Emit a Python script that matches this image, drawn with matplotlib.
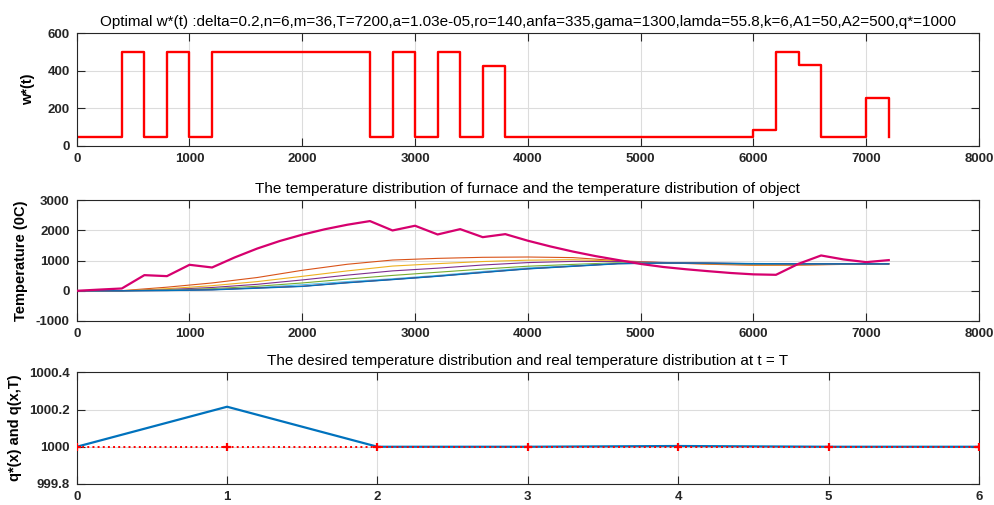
import numpy as np
import matplotlib
matplotlib.use("Agg")
import matplotlib.pyplot as plt
from matplotlib.ticker import FuncFormatter

plt.rcParams['font.family'] = ['Liberation Sans', 'DejaVu Sans']
plt.rcParams['axes.unicode_minus'] = False

# ---------------- data ----------------
t_steps = list(range(0, 7201, 200))  # 37 time nodes
w_opt = [50, 50, 500, 50, 500, 50, 500, 500, 500, 500, 500, 500, 500,
         50, 500, 50, 500, 50, 426, 50, 50, 50, 50, 50, 50, 50, 50, 50, 50,
         50, 85, 500, 430, 50, 50, 256, 50]

furnace = [0, 40, 77, 519, 486, 862, 773, 1105, 1400, 1650, 1860, 2040, 2190,
           2311, 2000, 2156, 1867, 2044, 1778, 1878, 1660, 1470, 1300, 1150,
           1020, 890, 790, 715, 650, 590, 545, 530, 895, 1171, 1039, 950, 1017]

t_obj = list(range(0, 7201, 400))
obj_orange = [0, 5, 120, 260, 440, 680, 880, 1020, 1075, 1110, 1120, 1100, 1000, 930, 880, 845, 850, 875, 890]
obj_yellow = [0, 2, 70, 170, 305, 480, 660, 820, 900, 970, 1015, 1030, 985, 935, 893, 860, 860, 880, 893]
obj_purple = [0, 1, 40, 110, 215, 360, 520, 660, 750, 855, 935, 975, 970, 940, 905, 875, 870, 882, 893]
obj_green = [0, 0, 25, 70, 150, 260, 390, 510, 615, 720, 815, 875, 930, 930, 910, 885, 880, 885, 893]
obj_lblue = [0, 0, 15, 45, 110, 200, 305, 400, 510, 640, 760, 835, 910, 925, 915, 895, 890, 890, 893]
obj_dred = [0, 0, 10, 35, 95, 150, 270, 375, 485, 610, 730, 815, 900, 922, 918, 900, 893, 893, 893]
obj_blue = [0, 0, 8, 30, 85, 145, 265, 370, 480, 605, 725, 810, 895, 920, 918, 903, 895, 893, 893]

x_nodes = [0, 1, 2, 3, 4, 5, 6]
q_star = [1000, 1000, 1000, 1000, 1000, 1000, 1000]
q_real = [1000.0, 1000.215, 1000.0, 1000.0, 1000.004, 1000.0, 1000.0]

title_top = ("Optimal w*(t) :delta=0.2,n=6,m=36,T=7200,a=1.03e-05,ro=140,anfa=335,"
             "gama=1300,lamda=55.8,k=6,A1=50,A2=500,q*=1000")
title_mid = "The temperature distribution of furnace and the temperature distribution of object"
title_bot = "The desired temperature distribution and real temperature distribution at t = T"

# ---------------- figure ----------------
fig = plt.figure(figsize=(9.95, 5.05), dpi=100)
ax1 = fig.add_axes([0.0771, 0.7109, 0.9068, 0.2231])
ax2 = fig.add_axes([0.0771, 0.3644, 0.9068, 0.2390])
ax3 = fig.add_axes([0.0771, 0.0416, 0.9068, 0.2212])

axc = '#262626'

def style(ax):
    ax.grid(True, color='#dcdcdc', linewidth=0.8)
    ax.set_axisbelow(True)
    for s in ax.spines.values():
        s.set_color(axc)
        s.set_linewidth(0.8)
    ax.tick_params(direction='in', length=6, width=0.8, colors=axc,
                   top=True, right=True, labelsize=9.5)
    ax.tick_params(axis='x', pad=5)
    ax.tick_params(axis='y', pad=5)
    for lab in ax.get_xticklabels() + ax.get_yticklabels():
        lab.set_fontweight('bold')

# top
ax1.step(t_steps, w_opt, where='post', color='#ff0000', linewidth=1.7)
ax1.set_xlim(0, 8000)
ax1.set_ylim(0, 600)
ax1.set_xticks(range(0, 8001, 1000))
ax1.set_yticks([0, 200, 400, 600])
ax1.set_ylabel('w*(t)', fontsize=10.5, fontweight='bold', color='black', labelpad=9)
ax1.set_title(title_top, fontsize=11, color='black', pad=5)
style(ax1)

# middle
ax2.plot(t_steps, furnace, color='#d6006e', linewidth=1.6, zorder=5)
obj_series = [obj_blue, obj_orange, obj_yellow, obj_purple, obj_green, obj_lblue, obj_dred]
obj_colors = ['#0072BD', '#D95319', '#EDB120', '#7E2F8E', '#77AC30', '#4DBEEE', '#A2142F']
for ys, c in zip(obj_series[1:], obj_colors[1:]):
    ax2.plot(t_obj, ys, color=c, linewidth=0.8)
ax2.plot(t_obj, obj_series[0], color=obj_colors[0], linewidth=0.9)
ax2.set_xlim(0, 8000)
ax2.set_ylim(-1000, 3000)
ax2.set_xticks(range(0, 8001, 1000))
ax2.set_yticks([-1000, 0, 1000, 2000, 3000])
ax2.set_ylabel('Temperature (0C)', fontsize=10.5, fontweight='bold', color='black', labelpad=6)
ax2.set_title(title_mid, fontsize=11, color='black', pad=5)
style(ax2)

# bottom
ax3.plot(x_nodes, q_star, color='#ff0000', linestyle=':', linewidth=1.4,
         marker='+', markersize=6, markeredgewidth=1.6, zorder=4)
ax3.plot(x_nodes, q_real, color='#0072BD', linewidth=1.6, zorder=3)
ax3.set_xlim(0, 6)
ax3.set_ylim(999.8, 1000.4)
ax3.set_xticks(x_nodes)
ax3.set_yticks([999.8, 1000.0, 1000.2, 1000.4])
ax3.yaxis.set_major_formatter(FuncFormatter(lambda v, p: ('%.1f' % v).rstrip('0').rstrip('.')))
ax3.set_ylabel('q*(x) and q(x,T)', fontsize=10.5, fontweight='bold', color='black', labelpad=5)
ax3.set_title(title_bot, fontsize=11, color='black', pad=5)
style(ax3)

for a in (ax1, ax2, ax3):
    for lab in a.get_xticklabels() + a.get_yticklabels():
        lab.set_fontweight('bold')

fig.savefig('out.png', dpi=100)
